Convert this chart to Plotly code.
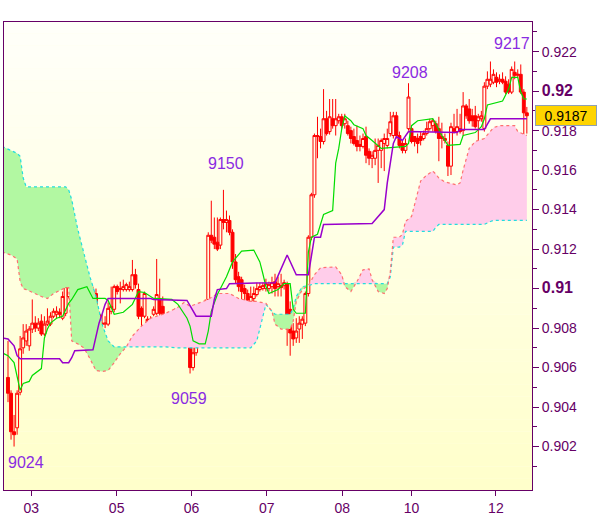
import numpy as np
import plotly.graph_objects as go

# ---------------- data ----------------
open_ = [
0.9055,0.9047,0.90275,0.90295,0.90475,0.907,0.90735,0.9071,0.90795,0.90825,
0.908,0.90835,0.9077,0.9082,0.9082,0.9086,0.9087,0.9088,0.9085,0.90875,
0.9096,0.90995,0.91045,0.9115,0.91145,0.91095,0.9097,0.9085,0.9085,0.90975,
0.9087,0.90825,0.9082,0.9082,0.90885,0.90895,0.9101,0.90995,0.90995,0.90995,
0.90995,0.90995,0.9107,0.90995,0.909,0.9086,0.90845,0.90845,0.9087,0.90875,
0.9095,0.9091,0.90835,0.908,0.90805,0.908,0.90845,0.9083,0.90825,0.908,
0.90735,0.906,0.90675,0.90725,0.90725,0.9086,0.90945,0.9127,0.9126,0.91235,
0.9122,0.9135,0.91335,0.91345,0.91285,0.91135,0.9106,0.91045,0.91,0.90975,
0.90935,0.9095,0.9097,0.90995,0.91,0.91,0.91,0.9101,0.91035,0.9101,
0.91015,0.91015,0.91025,0.90895,0.90785,0.9075,0.90795,0.9082,0.90825,0.90975,
0.9126,0.91475,0.91775,0.9177,0.91745,0.9186,0.91795,0.9186,0.91825,0.9185,
0.9187,0.91835,0.91825,0.918,0.9177,0.9175,0.9173,0.9172,0.9177,0.91695,
0.9166,0.9166,0.917,0.917,0.91735,0.91725,0.91785,0.91775,0.91875,0.91775,
0.91735,0.917,0.9181,0.9181,0.9177,0.9176,0.9177,0.9176,0.91785,0.9181,
0.91825,0.91835,0.9181,0.9177,0.9176,0.91725,0.9162,0.9181,0.91795,0.9181,
0.918,0.91925,0.9191,0.91875,0.91875,0.9185,0.9186,0.9181,0.92025,0.92035,
0.92045,0.9207,0.9205,0.9206,0.9205,0.92035,0.91995,0.92095,0.9208,0.92085,
0.91995,0.9189]
high = [
0.90735,0.90485,0.9036,0.90485,0.9076,0.9082,0.9082,0.9081,0.90945,0.9086,
0.9085,0.9087,0.9086,0.909,0.9088,0.909,0.9091,0.909,0.90985,0.91035,
0.9108,0.9111,0.91175,0.9117,0.9115,0.9111,0.90985,0.9102,0.9101,0.91,
0.90885,0.9087,0.9086,0.9093,0.9101,0.9102,0.9102,0.91035,0.91045,0.9103,
0.91035,0.91145,0.911,0.91025,0.9091,0.90985,0.9086,0.9086,0.9091,0.9115,
0.9105,0.9096,0.9086,0.9081,0.90875,0.909,0.9087,0.9085,0.90895,0.9087,
0.9076,0.9076,0.9076,0.9081,0.9087,0.90945,0.91285,0.91445,0.9136,0.9136,
0.9136,0.915,0.91395,0.9137,0.913,0.91175,0.91085,0.9106,0.9102,0.90995,
0.9101,0.9101,0.9103,0.9103,0.9103,0.9105,0.91035,0.9106,0.91075,0.9106,
0.91075,0.91045,0.91035,0.90935,0.90825,0.9085,0.9086,0.9086,0.90985,0.9127,
0.91485,0.91785,0.9187,0.9181,0.9201,0.919,0.9196,0.9196,0.9196,0.91885,
0.91885,0.91885,0.9185,0.9182,0.9181,0.91825,0.91775,0.91785,0.9182,0.9171,
0.91695,0.9176,0.9176,0.9176,0.91785,0.9181,0.91895,0.91895,0.91895,0.91795,
0.9175,0.9176,0.9204,0.9182,0.9177,0.91785,0.91795,0.918,0.91845,0.9186,
0.9186,0.9185,0.9187,0.9184,0.91785,0.91745,0.9184,0.91885,0.9191,0.91885,
0.91995,0.91935,0.9196,0.9191,0.91925,0.91885,0.919,0.92045,0.921,0.9215,
0.9211,0.92095,0.92085,0.92095,0.92075,0.9206,0.92125,0.9215,0.9211,0.92135,
0.9201,0.9192]
low = [
0.90425,0.90235,0.902,0.9026,0.9046,0.9067,0.9071,0.90685,0.90775,0.9078,
0.90785,0.9076,0.9076,0.9081,0.9081,0.9085,0.9085,0.9085,0.9084,0.9086,
0.9095,0.9098,0.91035,0.9108,0.9102,0.9098,0.9087,0.90835,0.90835,0.9085,
0.90775,0.90775,0.908,0.9081,0.9087,0.9088,0.9097,0.90925,0.90985,0.90985,
0.90985,0.90985,0.91,0.90845,0.9081,0.9085,0.90775,0.90725,0.9086,0.90865,
0.9086,0.9076,0.90745,0.90725,0.90795,0.90775,0.9077,0.90785,0.90785,0.90745,
0.9057,0.90585,0.9066,0.9071,0.9071,0.9085,0.90935,0.9123,0.912,0.9119,
0.912,0.913,0.91285,0.9127,0.911,0.91025,0.90985,0.90895,0.90935,0.90895,
0.90925,0.9093,0.9096,0.90985,0.9099,0.90985,0.90985,0.90975,0.9096,0.9096,
0.9096,0.90995,0.9071,0.9066,0.9071,0.90725,0.90725,0.90745,0.9081,0.9096,
0.91245,0.9146,0.9166,0.9171,0.9173,0.91775,0.9178,0.9181,0.91775,0.91835,
0.9181,0.9181,0.91775,0.91735,0.91725,0.91695,0.91695,0.9171,0.91635,0.91625,
0.9161,0.91625,0.91535,0.9161,0.91595,0.9171,0.9177,0.9176,0.9176,0.9171,
0.91685,0.91685,0.918,0.91735,0.9172,0.91685,0.91725,0.9175,0.91775,0.918,
0.91795,0.91785,0.91645,0.9171,0.91735,0.9157,0.91575,0.91785,0.91775,0.91785,
0.91775,0.9186,0.91835,0.9182,0.9181,0.9175,0.91845,0.91795,0.9201,0.9202,
0.92035,0.9202,0.92035,0.92035,0.91985,0.91985,0.91985,0.9206,0.9207,0.91985,
0.9177,0.91785]
close = [
0.9047,0.90275,0.9026,0.9047,0.90695,0.9075,0.90785,0.90795,0.90825,0.908,
0.90825,0.9077,0.9082,0.90835,0.9086,0.90885,0.90885,0.9087,0.9096,0.9101,
0.9106,0.911,0.9115,0.911,0.91045,0.90995,0.90895,0.90895,0.90985,0.909,
0.90825,0.9082,0.90825,0.909,0.9091,0.9101,0.90985,0.91,0.9101,0.9102,
0.9101,0.9107,0.9102,0.9086,0.9086,0.90975,0.90795,0.90795,0.90895,0.9097,
0.90875,0.90825,0.9081,0.90775,0.90825,0.9084,0.9082,0.9081,0.90795,0.9075,
0.906,0.90675,0.90745,0.908,0.9086,0.90925,0.9127,0.91245,0.91225,0.912,
0.9135,0.91335,0.9135,0.91285,0.91135,0.91045,0.9101,0.90985,0.90975,0.9092,
0.9096,0.90975,0.91,0.9101,0.91015,0.91025,0.9102,0.9103,0.91,0.91025,
0.91005,0.9103,0.90795,0.90775,0.90745,0.90785,0.90825,0.90845,0.90975,0.9126,
0.91475,0.91775,0.9177,0.91745,0.9186,0.91785,0.9187,0.91825,0.9186,0.9187,
0.91825,0.9186,0.91785,0.9176,0.91735,0.9172,0.9172,0.9176,0.91675,0.9166,
0.91675,0.917,0.91725,0.9175,0.9176,0.9176,0.91845,0.91875,0.91775,0.91725,
0.917,0.91735,0.9197,0.91745,0.91745,0.91735,0.9175,0.91785,0.9181,0.91845,
0.9185,0.91795,0.9176,0.9176,0.9175,0.9162,0.9182,0.91795,0.9182,0.91795,
0.91925,0.91875,0.9185,0.9185,0.9182,0.9187,0.91875,0.92025,0.9206,0.9206,
0.92085,0.92045,0.9206,0.92045,0.91995,0.91995,0.9211,0.9208,0.92085,0.91995,
0.9189,0.91875]

# Ichimoku cloud (Senkou A / Senkou B) sampled at bar indices
cloud_idx = [-2,1,3,4,5,6, 11,13,15,19,20,21, 23,25,27,29,31,33, 35,37,39,41,44,47,
             52,56,58,60,66,69, 73,76,80,82,85,87, 88,90,93,94,95,97, 99,101,103,108,110,111,
             113,115,117,119,120,122, 124,125,126,127,129,130, 131,133,135,136,138,140,
             141,142,144,148,149,150, 152,154,157,159,160,162, 167,168,171]
span_a = [0.9172,0.917,0.91685,0.9167,0.9156,0.91515,
          0.91515,0.91515,0.91515,0.91515,0.915,0.9145,
          0.913,0.9118,0.9106,0.9096,0.9082,0.90735,
          0.90705,0.90705,0.90705,0.90705,0.90705,0.90705,
          0.90705,0.907,0.907,0.907,0.907,0.907,
          0.907,0.907,0.907,0.90735,0.9092,0.90885,
          0.9087,0.9087,0.9087,0.909,0.9096,0.9101,
          0.91015,0.91025,0.91025,0.91025,0.91025,0.91025,
          0.91025,0.91025,0.91025,0.91025,0.91025,0.91025,
          0.91025,0.91025,0.9106,0.9121,0.9121,0.9122,
          0.9129,0.9129,0.9129,0.9129,0.9129,0.9129,
          0.9131,0.91325,0.91325,0.91325,0.91325,0.91325,
          0.91325,0.91325,0.91325,0.9134,0.91345,0.91345,
          0.91345,0.91345,0.91345]
span_b = [0.91185,0.9117,0.9115,0.91035,0.91,0.90995,
          0.9096,0.9095,0.90975,0.91005,0.91005,0.90735,
          0.9072,0.907,0.90645,0.90585,0.9058,0.90585,
          0.90625,0.9067,0.90705,0.9076,0.9081,0.9085,
          0.90875,0.90905,0.9093,0.9091,0.90945,0.90975,
          0.90975,0.9095,0.90935,0.90935,0.90925,0.90885,
          0.9082,0.90795,0.90795,0.90835,0.90935,0.90995,
          0.91015,0.9107,0.91105,0.9111,0.9107,0.9101,
          0.90985,0.91035,0.91095,0.911,0.91045,0.90985,
          0.90975,0.91,0.91085,0.9126,0.9126,0.91275,
          0.9134,0.91365,0.91485,0.91545,0.91575,0.91595,
          0.9158,0.9156,0.9154,0.91525,0.91535,0.916,
          0.9171,0.91745,0.9176,0.918,0.91815,0.91825,
          0.91825,0.91795,0.91775]

# Kijun-sen
kijun_idx = [-2,0,2,3,4,17,18,20,21,22,28,30,31,32,33,47,48,59,62,67,68,69,72,73,88,92,95,99,
             101,103,104,120,124,125,126,127,128,130,132,148,149,157,159,171]
kijun = [0.9075,0.90745,0.9071,0.9066,0.90645,0.90645,0.90625,0.90625,0.9065,0.90685,0.9069,
         0.90825,0.9087,0.9092,0.9095,0.9095,0.90945,0.9094,0.9086,0.9086,0.90945,0.90995,0.91,
         0.91025,0.9103,0.9117,0.9107,0.9107,0.9126,0.9126,0.91325,0.9133,0.914,0.91535,0.91635,
         0.91735,0.9177,0.9175,0.91795,0.9179,0.91805,0.91805,0.9186,0.9186]

# Tenkan-sen
tenkan_idx = [-2,0,2,3,4,5,7,8,10,11,12,13,14,16,18,20,21,23,24,26,28,32,33,35,38,41,43,45,48,
              54,56,57,59,60,61,63,65,66,67,69,72,74,77,81,83,84,85,86,89,91,93,94,95,98,99,100,
              102,104,107,108,109,110,111,113,114,117,118,120,122,123,131,132,133,135,140,141,
              143,145,149,150,154,156,157,158,163,165,166,168,169,170,171]
tenkan = [0.90675,0.9066,0.90625,0.90545,0.90485,0.9052,0.9053,0.9056,0.90585,0.90595,0.9075,
          0.90795,0.90825,0.9085,0.9086,0.90925,0.90945,0.90995,0.91,0.9101,0.9095,0.9095,0.9094,
          0.9087,0.9088,0.9092,0.90985,0.9098,0.9095,0.90945,0.9092,0.90895,0.9085,0.9081,0.90735,
          0.9072,0.9072,0.90785,0.90885,0.9097,0.9106,0.91135,0.9119,0.91195,0.91135,0.91075,
          0.9101,0.90975,0.90995,0.91025,0.91025,0.90895,0.90875,0.90875,0.91185,0.9126,0.91275,
          0.91375,0.91395,0.91635,0.9171,0.9181,0.91875,0.9185,0.9183,0.9181,0.91775,0.9175,
          0.91725,0.9171,0.9172,0.91735,0.91825,0.9185,0.9186,0.91835,0.91775,0.91725,0.9173,
          0.91775,0.9179,0.9182,0.9186,0.9193,0.9195,0.9201,0.9207,0.9207,0.91995,0.9196,0.9196]

day_ticks = [7.7, 35.8, 60.5, 85.3, 110.2, 133.0, 160.8]
day_labels = ["03", "05", "06", "07", "08", "10", "12"]

marks = [("9024", 5.9, 0.9012), ("9059", 59.5, 0.90445), ("9150", 71.7, 0.91635),
         ("9208", 132.5, 0.92095), ("9217", 166.0, 0.9224)]
last_price = close[-1]

# ---------------- figure ----------------
PURPLE = "#660066"
FONT = "Liberation Sans, Arial, sans-serif"
x = list(range(len(close)))
sa = np.array(span_a)
sb = np.array(span_b)
top = np.maximum(sa, sb)

fig = go.Figure()
# green cloud (A above B)
fig.add_trace(go.Scatter(x=cloud_idx, y=span_b, mode="lines", line=dict(width=0), hoverinfo="skip"))
fig.add_trace(go.Scatter(x=cloud_idx, y=top, mode="lines", line=dict(width=0), fill="tonexty",
                         fillcolor="#b2f8a2", hoverinfo="skip"))
# pink cloud (B above A)
fig.add_trace(go.Scatter(x=cloud_idx, y=span_a, mode="lines", line=dict(width=0), hoverinfo="skip"))
fig.add_trace(go.Scatter(x=cloud_idx, y=top, mode="lines", line=dict(width=0), fill="tonexty",
                         fillcolor="#ffcdea", hoverinfo="skip"))
fig.add_trace(go.Scatter(x=cloud_idx, y=span_a, mode="lines",
                         line=dict(color="#22dddd", width=1.2, dash="3px,3px")))
fig.add_trace(go.Scatter(x=cloud_idx, y=span_b, mode="lines",
                         line=dict(color="#ff7070", width=1.2, dash="3px,3px")))

fig.add_trace(go.Candlestick(
    x=x, open=open_, high=high, low=low, close=close,
    increasing=dict(line=dict(color="#ff0000", width=1), fillcolor="rgba(0,0,0,0)"),
    decreasing=dict(line=dict(color="#ff0000", width=1), fillcolor="#ff0000"),
    whiskerwidth=0, hoverinfo="skip"))

fig.add_trace(go.Scatter(x=tenkan_idx, y=tenkan, mode="lines", line=dict(color="#00dd00", width=1.2)))
fig.add_trace(go.Scatter(x=kijun_idx, y=kijun, mode="lines", line=dict(color="#9900cc", width=1.5)))

# background gradient
shapes = []
n = 40
for k in range(n):
    t = (k + 0.5) / n  # 0 bottom -> 1 top
    b = int(round(202 + (250 - 202) * t))
    shapes.append(dict(type="rect", xref="x domain", yref="y domain", x0=0, x1=1,
                       y0=k / n, y1=(k + 1) / n, fillcolor=f"rgb(255,255,{b})",
                       line=dict(width=0), layer="below"))

annotations = []
for txt, xi, yv in marks:
    annotations.append(dict(x=xi, y=yv, xref="x", yref="y", text=txt, showarrow=False,
                            font=dict(family=FONT, size=16, color="#8a2be2")))
annotations.append(dict(x=1, xref="paper", y=last_price, yref="y", xanchor="left", xshift=3,
                        text=f"{last_price:.5f}"[:6], showarrow=False,
                        font=dict(family=FONT, size=14, color="#000000"),
                        bgcolor="#ffd400", bordercolor="#8ea0b4", borderwidth=1,
                        width=58, height=17, borderpad=1))

yt = [round(0.902 + 0.002 * i, 3) for i in range(11)]
ytext = []
for v in yt:
    s = f"{v:.3f}".rstrip("0")
    if abs(v * 100 - round(v * 100)) < 1e-9:
        ytext.append(f"<span style='font-size:16px'><b>{s}</b></span>")
    else:
        ytext.append(s)
yminor = [round(0.901 + 0.002 * i, 3) for i in range(12)]

fig.update_layout(
    width=600, height=519,
    margin=dict(l=3, r=68, t=22, b=23),
    paper_bgcolor="white", plot_bgcolor="#ffffe8",
    showlegend=False, hovermode=False, boxgap=0.05, boxgroupgap=0,
    shapes=shapes, annotations=annotations,
    font=dict(family=FONT, size=13, color=PURPLE),
    xaxis=dict(range=[-1.32, 172.7], rangeslider=dict(visible=False), showgrid=False,
               zeroline=False, tickvals=day_ticks, ticktext=day_labels, ticks="outside",
               ticklen=5, tickcolor=PURPLE, showline=True, linecolor=PURPLE, linewidth=1,
               mirror=True, tickfont=dict(family=FONT, size=14, color=PURPLE)),
    yaxis=dict(range=[0.8998, 0.9235], side="right", showgrid=False, zeroline=False,
               tickvals=yt, ticktext=ytext, ticks="outside", ticklen=6, tickcolor=PURPLE,
               showline=True, linecolor=PURPLE, linewidth=1, mirror=True,
               tickfont=dict(family=FONT, size=14, color=PURPLE),
               minor=dict(tickvals=yminor, ticks="outside", ticklen=4, tickcolor=PURPLE)),
)

fig.write_html("out.html", config={"displayModeBar": False},
               post_script="document.body.style.margin='0';document.body.style.overflow='hidden';")
